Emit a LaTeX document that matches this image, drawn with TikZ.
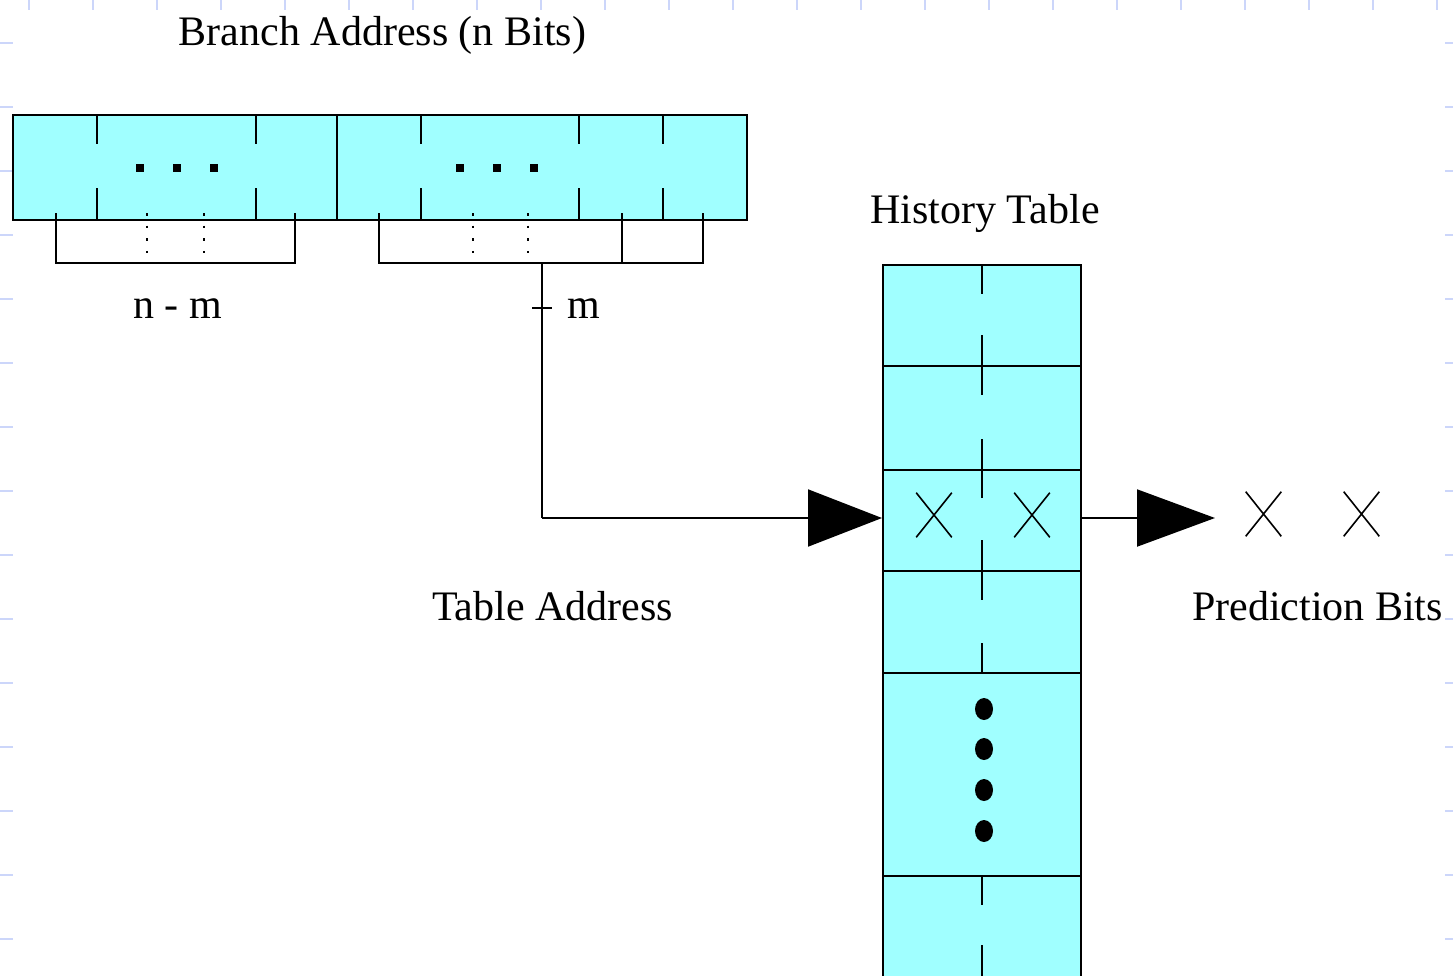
\documentclass[tikz,border=0pt]{standalone}
\usepackage{fontspec}
\setmainfont{Liberation Serif}
\usetikzlibrary{arrows.meta,shapes.misc}
\definecolor{cellfill}{RGB}{160,255,255}
\definecolor{gridtick}{RGB}{204,214,250}
\begin{document}
\begin{tikzpicture}[x=1pt,y=-1pt,line width=2pt,
  cell/.style={draw=black,fill=cellfill,inner sep=0pt,line width=2pt},
  txt/.style={font=\fontsize{42}{50}\selectfont,inner sep=0pt,anchor=base},
  xmark/.style={cross out,draw=black,line width=1.6pt,minimum width=34pt,minimum height=43pt,inner sep=0pt},
  tick/.style={gridtick,line width=2.5pt},
  dotline/.style={line width=2.6pt,dash pattern=on 2.6pt off 10pt},
  intip/.style={-{Triangle[length=74pt,width=57pt]}},
  outtip/.style={-{Triangle[length=78pt,width=57pt]}}]
\useasboundingbox (0,0) rectangle (1453,975);
\clip (0,0) rectangle (1453,975);

% faint page grid ticks along the edges
\foreach \x in {0,...,22} \draw[tick] (29+64*\x,0) -- (29+64*\x,10);
\foreach \y in {0,...,14} {
  \draw[tick] (0,43+64*\y) -- (13,43+64*\y);
  \draw[tick] (1445,43+64*\y) -- (1453,43+64*\y);
}

% branch address register
\node[txt] (title) at (382.5,45) {Branch Address (n Bits)};
\node[cell,minimum width=324pt,minimum height=105pt] (regL) at (175,167.5) {};
\node[cell,minimum width=410pt,minimum height=105pt] (regR) at (542,167.5) {};
\foreach \x in {97,256,421,579,663} {
  \draw (\x,115) -- (\x,144);
  \draw (\x,188) -- (\x,220);
}
\foreach \x in {140,177,214,460,497,534} \fill (\x-4,164) rectangle (\x+4,172);

% bit-field brackets
\draw (56,213) |- (295,263) -- (295,213);
\draw (379,213) |- (703,263) -- (703,213);
\draw (622,213) -- (622,263);
\foreach \x in {147,204,473,528} \draw[dotline] (\x,213) -- (\x,260);
\node[txt] (nm) at (177.5,318) {n - m};
\node[txt] (m) at (584,318) {m};

% history table
\node[txt] (htitle) at (985,223) {History Table};
\node[cell,minimum width=198pt,minimum height=101pt] (row1) at (982,315.5) {};
\node[cell,minimum width=198pt,minimum height=104pt] (row2) at (982,418) {};
\node[cell,minimum width=198pt,minimum height=101pt] (row3) at (982,520.5) {};
\node[cell,minimum width=198pt,minimum height=102pt] (row4) at (982,622) {};
\node[cell,minimum width=198pt,minimum height=203pt] (row5) at (982,774.5) {};
\node[cell,minimum width=198pt,minimum height=124pt] (row6) at (982,938) {};
\foreach \a/\b in {265/294,335/395,439/498,540/600,643/673,876/905,945/990}
  \draw (982,\a) -- (982,\b);
\node[xmark] (x1) at (934,515) {};
\node[xmark] (x2) at (1032,515) {};
\foreach \y in {709,749,790,831} \fill (984,\y) ellipse [x radius=9pt,y radius=11pt];

% index path into the table
\coordinate (tap) at (542,263);
\coordinate (bend) at (542,518);
\draw (tap) -- (bend);
\draw (532,308) -- (552,308);
\draw[intip] (bend) -- (bend -| row3.west);
\node[txt] (taddr) at (552.5,620) {Table Address};

% prediction output
\coordinate (outend) at (1215,518);
\draw[outtip] (bend -| row3.east) -- (outend);
\node[xmark] (p1) at (1263.5,514) {};
\node[xmark] (p2) at (1361.5,514) {};
\node[txt] (pbits) at (1317.5,620) {Prediction Bits};
\end{tikzpicture}
\end{document}
